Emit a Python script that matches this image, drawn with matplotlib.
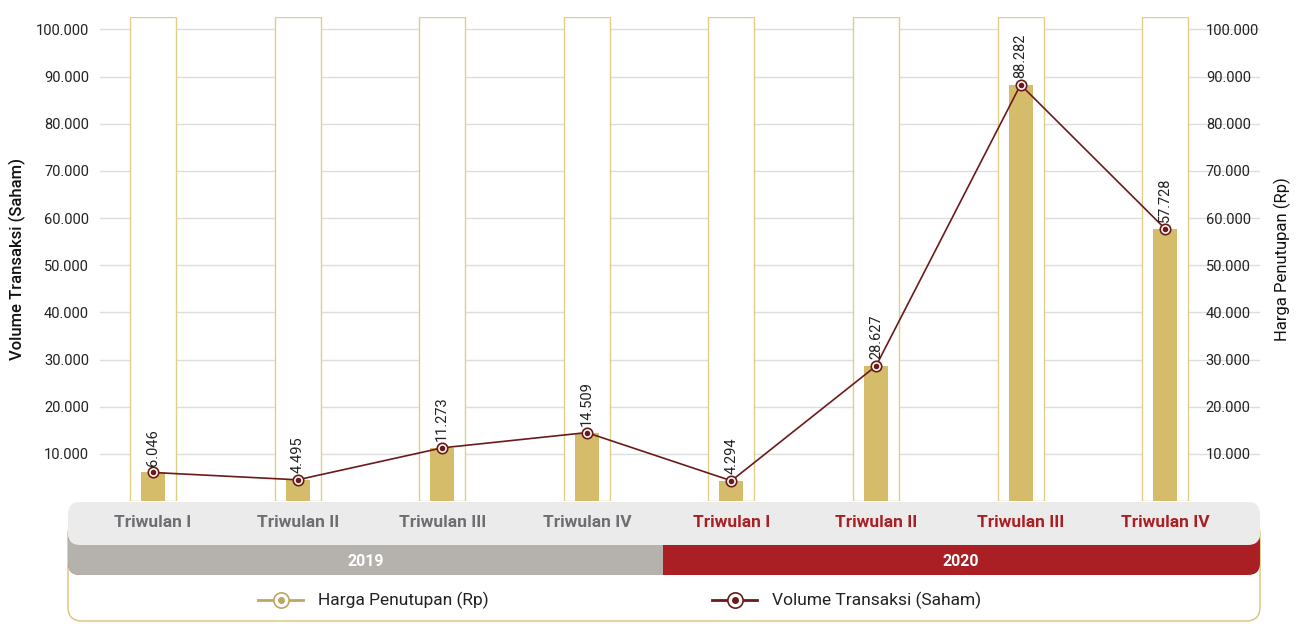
import matplotlib.pyplot as plt
from matplotlib.patches import FancyBboxPatch, Rectangle
import numpy as np

plt.rcParams['font.family'] = ['Roboto', 'DejaVu Sans']

# data
kategori = ['Triwulan I', 'Triwulan II', 'Triwulan III', 'Triwulan IV',
            'Triwulan I', 'Triwulan II', 'Triwulan III', 'Triwulan IV']
tahun = ['2019', '2020']
volume = [6046, 4495, 11273, 14509, 4294, 28627, 88282, 57728]
harga = [6046, 4495, 11273, 14509, 4294, 28627, 88282, 57728]
label_volume = ['6.046', '4.495', '11.273', '14.509', '4.294', '28.627', '88.282', '57.728']
yticks = [10000, 20000, 30000, 40000, 50000, 60000, 70000, 80000, 90000, 100000]
ytick_labels = ['10.000', '20.000', '30.000', '40.000', '50.000',
                '60.000', '70.000', '80.000', '90.000', '100.000']

GOLD = '#D5BC6A'
GOLD_EDGE = '#E2CD86'
MAROON = '#6B1A1A'
RED = '#A91F24'
GREY_TXT = '#6D6E71'
W, H = 1301, 624

fig = plt.figure(figsize=(W / 100, H / 100), dpi=100)

# overlay in pixel coords for the bands + legend
ov = fig.add_axes([0, 0, 1, 1], zorder=0)
ov.set_xlim(0, W)
ov.set_ylim(H, 0)
ov.axis('off')

# legend outline
ov.add_patch(FancyBboxPatch((68, 520), 1192, 101, boxstyle='round,pad=0,rounding_size=14',
                            fc='white', ec='#D8C27A', lw=1.0))
# year band
ov.add_patch(FancyBboxPatch((68, 530), 1192, 45, boxstyle='round,pad=0,rounding_size=12',
                            fc=RED, ec='none'))
ov.add_patch(FancyBboxPatch((68, 530), 620, 45, boxstyle='round,pad=0,rounding_size=12',
                            fc='#B5B2AD', ec='none'))
ov.add_patch(Rectangle((663, 530), 40, 45, fc=RED, ec='none'))
# category band
ov.add_patch(FancyBboxPatch((68, 502), 1192, 43, boxstyle='round,pad=0,rounding_size=12',
                            fc='#EBEBEB', ec='none'))
ov.text(366, 561, tahun[0], ha='center', va='center', color='white', fontsize=11.5, fontweight='bold')
ov.text(961, 561, tahun[1], ha='center', va='center', color='white', fontsize=11.5, fontweight='bold')

# legend entries
for x0, c, lab in [(258, '#BFA660', 'Harga Penutupan (Rp)'), (712, MAROON, 'Volume Transaksi (Saham)')]:
    ov.plot([x0, x0 + 45], [600, 600], color=c, lw=2.0)
    ov.plot(x0 + 22.5, 600, 'o', ms=11, mfc='white', mec=c, mew=1.2)
    ov.plot(x0 + 22.5, 600, 'o', ms=4, color=c)
    ov.text(x0 + 60, 600, lab, ha='left', va='center', fontsize=12.5, color='#222222')

# main chart
ax = fig.add_axes([100 / W, 1 - 501 / H, 1160 / W, 484 / H], zorder=1)
ax.patch.set_alpha(0)
x = np.arange(len(kategori))
ymax = 102650
ax.set_xlim(-0.367, 7.656)
ax.set_ylim(0, ymax)

ax.bar(x, [ymax] * len(x), width=0.318, color='white', edgecolor=GOLD_EDGE, lw=1.0, zorder=2)
ax.bar(x, harga, width=0.166, color=GOLD, zorder=3)
ax.plot(x, volume, color=MAROON, lw=1.2, zorder=4)
ax.plot(x, volume, 'o', ms=7.5, mfc='white', mec=MAROON, mew=1.2, zorder=5)
ax.plot(x, volume, 'o', ms=3, color=MAROON, zorder=6)

for xi, v, t in zip(x, volume, label_volume):
    ax.annotate(t, (xi, v), xytext=(0, 5), textcoords='offset points', rotation=90,
                ha='center', va='bottom', fontsize=10.5, color='#222222', zorder=7)

ax.set_yticks(yticks)
ax.set_yticklabels(ytick_labels, fontsize=10.5, color='#222222')
ax.grid(axis='y', color='#DDDDDD', lw=1.0, zorder=0)
ax.set_axisbelow(True)
ax.tick_params(axis='y', length=0, pad=8)
ax.set_xticks([])
for s in ax.spines.values():
    s.set_visible(False)
ax.set_ylabel('Volume Transaksi (Saham)', fontsize=12, fontweight='medium', color='#111111', labelpad=7)

# category labels in the grey band
for i, k in enumerate(kategori):
    col = GREY_TXT if i < 4 else RED
    ax.text(i, -0.045, k, transform=ax.get_xaxis_transform(), ha='center', va='center',
            fontsize=12.5, fontweight='bold', color=col, clip_on=False)

ax2 = ax.twinx()
ax2.set_ylim(0, ymax)
ax2.set_yticks(yticks)
ax2.set_yticklabels(ytick_labels, fontsize=10.5, color='#222222')
ax2.tick_params(axis='y', length=0, pad=-39)
for s in ax2.spines.values():
    s.set_visible(False)
ax2.set_ylabel('Harga Penutupan (Rp)', fontsize=12, color='#111111', labelpad=10)

fig.savefig('out.png', dpi=100)
